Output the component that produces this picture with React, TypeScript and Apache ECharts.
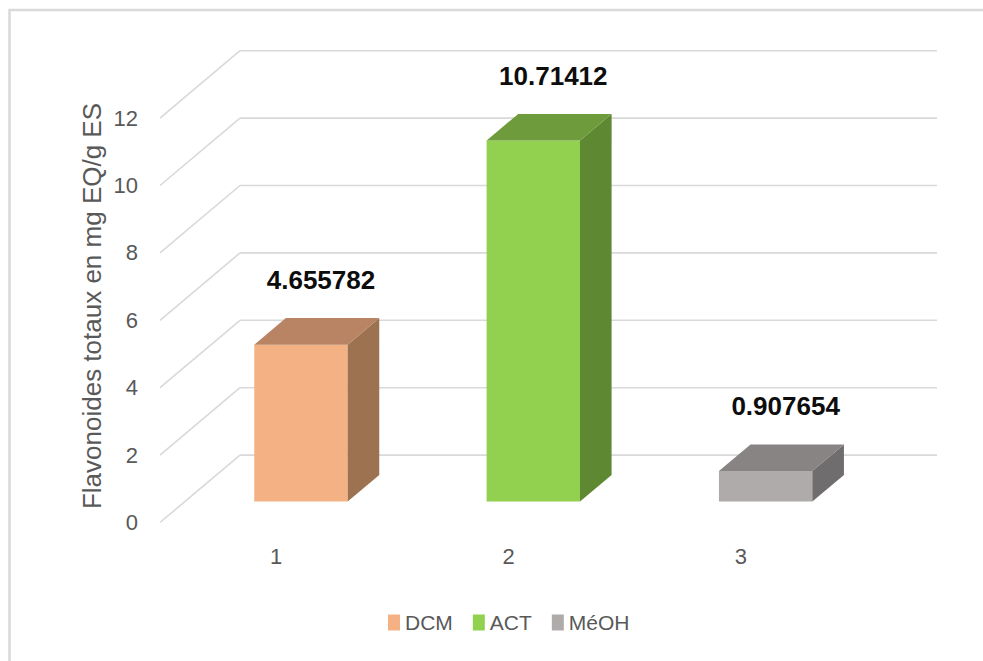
import React, { useEffect, useRef } from "react";
import * as echarts from "echarts";

const categories = ["1", "2", "3"];
const seriesNames = ["DCM", "ACT", "MéOH"];
const values = [4.655782, 10.71412, 0.907654];
const yTicks = [0, 2, 4, 6, 8, 10, 12];
const frontColors = ["#F4B183", "#92D050", "#AEABAA"];
const sideColors = ["#9C7250", "#5F8832", "#6F6D6D"];
const topColors = ["#B98463", "#6E9B3B", "#878483"];
const yTitle = "Flavonoides totaux en mg EQ/g ES";

const DEPTH_DX = 80; // px horizontal shift from front plane to back wall
const DEPTH_UNITS = 2; // vertical shift of back wall, in value units
const BAR_D1 = 0.31;
const BAR_D2 = 0.705;
const BAR_W = 0.402;

export default function App() {
  const ref = useRef<HTMLDivElement>(null);
  useEffect(() => {
    if (!ref.current) return;
    const chart = echarts.init(ref.current, null, { renderer: "svg" });

    const gridSeries: any = {
      type: "custom",
      name: "grid",
      coordinateSystem: "cartesian2d",
      silent: true,
      z: 1,
      data: yTicks.map((t) => [0, t]),
      renderItem: (params: any, api: any) => {
        const cs = params.coordSys;
        const p = api.coord([0, api.value(1)]);
        const dy = api.size([0, DEPTH_UNITS])[1];
        const x0 = cs.x;
        const y = p[1];
        const style = { stroke: "#D9D9D9", lineWidth: 1.6 };
        return {
          type: "group",
          children: [
            { type: "line", shape: { x1: x0, y1: y, x2: x0 + DEPTH_DX, y2: y - dy }, style },
            { type: "line", shape: { x1: x0 + DEPTH_DX, y1: y - dy, x2: x0 + DEPTH_DX + cs.width, y2: y - dy }, style },
          ],
        };
      },
    };

    const barSeries = seriesNames.map((name, i) => ({
      type: "custom",
      name,
      coordinateSystem: "cartesian2d",
      z: 2,
      itemStyle: { color: frontColors[i] },
      data: [[i, values[i]]],
      renderItem: (params: any, api: any) => {
        const cat = api.value(0);
        const v = api.value(1);
        const base = api.coord([cat, 0]);
        const top = api.coord([cat, v]);
        const dy = api.size([0, DEPTH_UNITS])[1];
        const catW = api.size([1, 0])[0];
        const w = catW * BAR_W;
        const fx = base[0] + DEPTH_DX * BAR_D1;
        const fy0 = base[1] - dy * BAR_D1;
        const fyt = top[1] - dy * BAR_D1;
        const bx = DEPTH_DX * (BAR_D2 - BAR_D1);
        const by = dy * (BAR_D2 - BAR_D1);
        const L = fx - w / 2;
        const R = fx + w / 2;
        return {
          type: "group",
          children: [
            {
              type: "rect",
              shape: { x: L, y: fyt, width: w, height: fy0 - fyt },
              style: { fill: frontColors[i] },
            },
            {
              type: "polygon",
              shape: { points: [[R, fyt], [R + bx, fyt - by], [R + bx, fy0 - by], [R, fy0]] },
              style: { fill: sideColors[i] },
            },
            {
              type: "polygon",
              shape: { points: [[L, fyt], [L + bx, fyt - by], [R + bx, fyt - by], [R, fyt]] },
              style: { fill: topColors[i] },
            },
            {
              type: "text",
              x: fx + 20,
              y: fyt - by - 38,
              style: {
                text: String(v),
                fill: "#0D0D0D",
                font: "bold 26px 'Liberation Sans', Arial, sans-serif",
                align: "center",
                verticalAlign: "middle",
              },
            },
          ],
        };
      },
    }));

    chart.setOption({
      animation: false,
      backgroundColor: "#FFFFFF",
      graphic: [
        {
          type: "rect",
          shape: { x: 9.5, y: 10, width: 1100, height: 800 },
          style: { fill: "none", stroke: "#D9D9D9", lineWidth: 2.5 },
          silent: true,
        },
        {
          type: "text",
          x: 92,
          y: 306,
          rotation: Math.PI / 2,
          style: {
            text: yTitle,
            fill: "#595959",
            font: "26px 'Liberation Sans', Arial, sans-serif",
            align: "center",
            verticalAlign: "middle",
          },
        },
      ],
      legend: {
        left: 383,
        top: 607,
        itemWidth: 12,
        itemHeight: 16,
        itemGap: 20,
        icon: "rect",
        data: seriesNames,
        textStyle: { fontSize: 21, color: "#595959", fontFamily: "'Liberation Sans', Arial, sans-serif" },
      },
      grid: { left: 160, right: 126, top: 118.1, bottom: 138.5, containLabel: false },
      xAxis: {
        type: "category",
        data: categories,
        axisLine: { show: false },
        axisTick: { show: false },
        splitLine: { show: false },
        axisLabel: {
          margin: 23,
          fontSize: 22,
          color: "#595959",
          fontFamily: "'Liberation Sans', Arial, sans-serif",
        },
      },
      yAxis: {
        type: "value",
        min: 0,
        max: 12,
        interval: 2,
        axisLine: { show: false },
        axisTick: { show: false },
        splitLine: { show: false },
        axisLabel: {
          margin: 22,
          fontSize: 22,
          color: "#595959",
          fontFamily: "'Liberation Sans', Arial, sans-serif",
        },
      },
      series: [gridSeries, ...barSeries],
    });
    return () => chart.dispose();
  }, []);
  return (
    <div
      ref={ref}
      style={{ position: "fixed", left: 0, top: 0, width: 983, height: 661 }}
    />
  );
}
